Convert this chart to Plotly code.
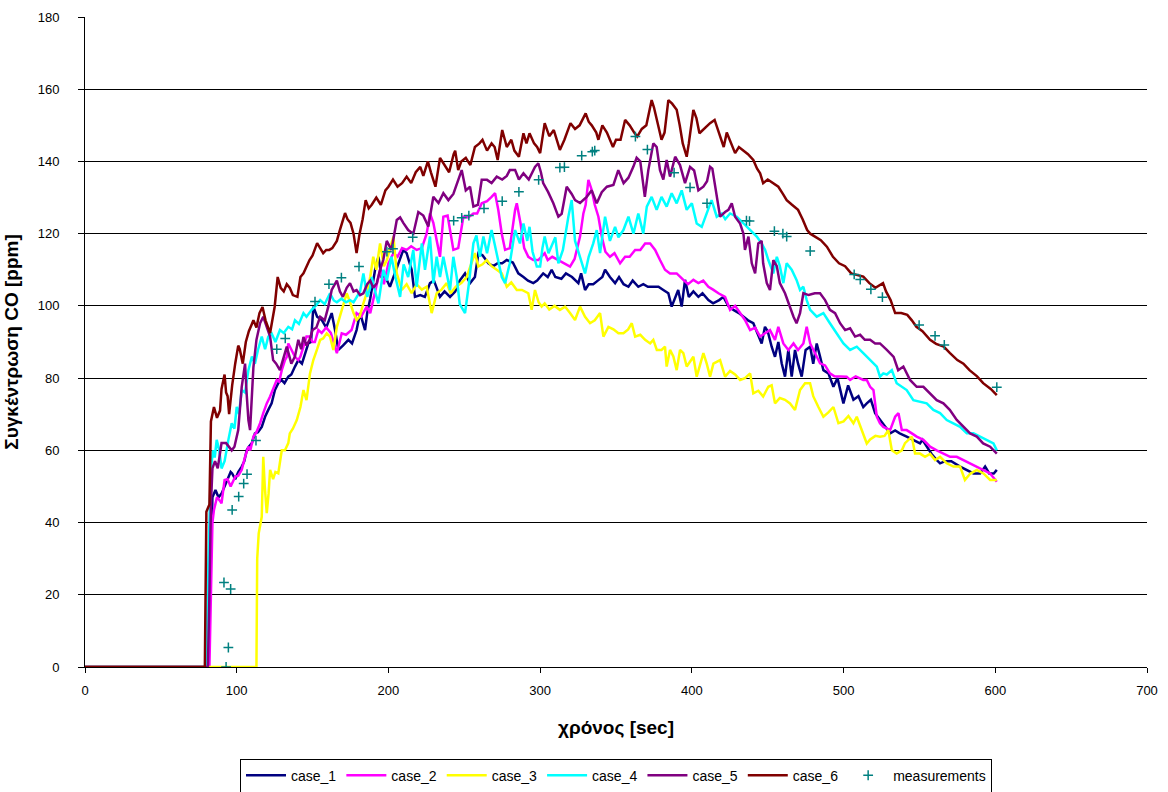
import plotly.graph_objects as go

# ---- CO concentration [ppm] vs time [sec] for six simulation cases ----
case1_t = [0, 81, 82, 83, 84, 86, 88, 90, 92, 94, 96, 97, 99, 101, 103.3, 105, 106.6, 108, 110, 112, 114, 116.5,
           118.7, 120.8, 123, 125.2, 127.4, 129.5, 131.5, 134, 136, 138.4, 140.6, 143, 145, 147.2, 149, 150.5, 153,
           156, 159, 162.6, 164.8, 167, 170, 173.6, 176, 179, 181.3, 184.6, 186, 188, 191.2, 193.4, 195.5, 198, 201,
           205, 209.8, 212, 215.3, 217.5, 221, 224, 227.4, 230, 234, 237, 240.6, 244, 247, 250.5, 253.8, 257, 259.3,
           262, 265.9, 269, 272, 275, 278, 282, 285.6, 289, 292, 295.5, 298, 302, 305, 307.6, 310, 314, 317, 321,
           325.2, 327, 329.6, 332, 335, 338, 341, 342.8, 346, 349.4, 352, 355, 358.2, 361, 364.7, 368, 371, 374.6,
           378, 381.2, 384.5, 386.7, 389, 391, 393.3, 395.5, 398, 401, 404.3, 407, 410.9, 414, 418, 420.8, 424,
           427.4, 431, 434, 437, 440.5, 443, 446, 448.2, 450, 452.6, 454.8, 457, 459.2, 461.4, 463.6, 465.8, 468,
           470, 472.4, 475, 478, 480, 482.3, 484.5, 486.7, 490, 493.3, 496, 499.9, 503, 506.5, 509.8, 513, 515.3,
           518, 520.8, 524, 527.4, 530.7, 534, 537, 541.6, 546, 550.4, 552, 554.8, 558, 561, 563.6, 567, 571, 576.8,
           581, 585.6, 590, 593.3, 596, 599, 601]
case1_ppm = [0, 0, 15, 35, 47, 49, 47, 48, 50, 52, 54, 53.6, 52, 54, 55.5, 57, 60, 61, 62, 64.7, 65, 66.5,
             69.3, 71.2, 73, 76.7, 78.6, 79.5, 78.6, 80.4, 81, 83.2, 85, 84, 86.9, 89.6, 90, 99.8, 97,
             96.1, 94, 98, 93.3, 87.8, 89, 90.6, 89.6, 93.3, 98, 93.3, 98, 102, 110, 113.6, 108, 108, 105.3,
             110, 115.5, 114.6, 110, 102.5, 103, 102.5, 106.3, 107, 102.5, 104, 102.5, 104, 107, 109, 106.3, 108, 114.6,
             114, 111.8, 111, 111.8, 111.8, 112.7, 112, 109, 108, 107, 106.3, 107, 109, 108, 110, 108, 107.5, 109, 108,
             106.3, 109, 104.4, 106, 106, 107, 108, 110, 108, 106.3, 108, 106, 105.3, 107, 105.3, 106, 105.3, 105.3,
             105.3, 104.4, 103.5, 99.8, 102, 104.4, 99.8, 107.2, 102.5, 104, 102.5, 103.5, 101.6, 100.7, 101.6, 102.5, 100,
             98.9, 98, 97, 96, 95.2, 92.4, 89.6, 94.2, 93, 88.7, 85.9, 90, 84.1, 80.4, 87.8, 80.4, 87.8,
             84, 80.4, 87.8, 88.7, 84, 89.6, 86, 82.2, 81.3, 77.6, 80, 73, 78, 74, 75, 72, 73,
             74, 70.3, 68.4, 66.5, 64.7, 65.5, 64.7, 63.8, 62.9, 61.9, 62.9, 61, 59, 57.5, 56.4, 57, 57, 55.5,
             54.6, 53.6, 53.6, 55.5, 53.6, 53.6, 54.6]

case2_t = [0, 82, 83, 84, 85, 87, 89, 90, 92, 94, 96, 99, 101, 103.3, 105.5, 107.7, 109, 111, 113, 115.4, 117.5,
           119.8, 122, 124, 126.4, 128, 129.7, 131.8, 133, 134, 136, 138.4, 140.6, 142, 144, 146, 148, 150, 151.5,
           153.8, 156, 159, 162, 164, 166, 169.2, 172, 175.7, 179, 182, 185.7, 188, 191.2, 194.5, 197, 200, 203.3,
           206, 209, 212, 215, 218.6, 222, 225.2, 227.4, 229.6, 231.8, 234, 236.2, 239, 242.8, 246, 249.4, 252.6,
           256, 258.5, 261.5, 265, 268, 270.3, 272.4, 274.7, 276.9, 280, 283.5, 284.6, 287, 289.5, 292.2, 295.5,
           298.8, 301, 303, 305, 308, 312, 315, 319.7, 322.7, 326.3, 328.5, 330, 331.8, 334, 336, 338.4, 340.6, 343,
           346, 349, 352.7, 356, 359, 362.6, 366, 369.2, 372.5, 375.8, 379, 382.3, 385.6, 390, 394.4, 397.5, 401,
           404.3, 407.5, 410.9, 414, 417.5, 421.9, 425.2, 428.5, 431.8, 435, 438.4, 441.7, 445, 448, 451.5, 454.8,
           457, 460.3, 463.6, 467, 470, 473.5, 475.7, 478, 481.2, 484.5, 487.8, 491, 494, 497.5, 502, 504.3, 508,
           513, 515.3, 517.5, 519.7, 521.9, 524, 526.2, 530.7, 534, 536.2, 538.4, 541.6, 545, 548.2, 552.6, 557,
           561.4, 566, 570.2, 574.6, 579, 583.4, 587.8, 592.2, 596.6, 601]
case2_ppm = [0, 0, 20, 40, 43.5, 47, 46, 45.3, 51.8, 52, 50, 52.7, 53, 54.6, 58.2, 61, 60, 63.8, 65, 67.5, 70.3,
             73, 74.9, 77, 79.5, 79, 82.2, 85, 85.9, 89.6, 88, 85.9, 85, 86, 88.7, 91.5, 91.5, 90, 90,
             93.3, 92.5, 94, 92.5, 90, 86.9, 92.4, 92, 93.3, 98, 97, 99.8, 98, 104.4, 110, 106, 111.8, 114.6,
             113.6, 116, 115.5, 116.5, 115.5, 116, 120, 125.6, 123, 118.2, 113.6, 124.7, 125, 115.5, 116, 124.7, 124.5,
             125.6, 125.6, 128.4, 129, 130.2, 131.2, 126.6, 120, 115.5, 116, 126.6, 128.4, 123, 116, 113.6, 112.7,
             112.7, 113.6, 114.6, 112.7, 113.6, 112.7, 112, 110.9, 113, 119.2, 125.6, 128, 134.9, 132.1, 128, 124.7, 119.2, 115,
             113.6, 114.6, 111.8, 113.6, 113.6, 115.5, 115.5, 117.3, 117.3, 115.5, 112.7, 110, 109, 109, 107.2, 106, 107.2,
             106.3, 107, 105.3, 104.5, 103.5, 102.5, 98.9, 100, 98, 96.1, 93.3, 94, 91.5, 92.4, 93.3, 90.6,
             94.2, 89.6, 87.8, 89.6, 87.8, 89.6, 94.2, 89.6, 86.9, 84.1, 83.5, 81.3, 80.5, 80.5, 80.4, 79.5, 80.5,
             79.5, 79.5, 77.6, 76.7, 69.3, 67.5, 66.5, 65.6, 69.3, 70.3, 65.6, 65.6, 64.7, 63.8, 62.9, 61,
             60, 59.1, 58.2, 58.2, 57.3, 56.4, 55.5, 54.6, 53.6, 51.3]

case3_t = [0, 113, 113.5, 114.5, 116.5, 117.5, 118.5, 119.8, 121, 122, 124, 125.5, 127.4, 129.7, 131.8, 134, 135,
           137, 139.6, 142, 144, 146, 148.3, 150.5, 153, 155, 157, 159.3, 161.5, 163.7, 166, 168, 170.3, 172.5,
           174.7, 177, 179, 181, 183.5, 186, 188, 190, 192, 194.5, 197, 199, 201, 203.3, 205.5, 208.8, 212, 215.3,
           218.6, 222, 225.2, 228.5, 231.8, 235, 238.4, 241, 244.4, 248, 251.6, 254.9, 257, 259.3, 262, 264.8, 268,
           271.4, 274.7, 278, 281, 284.6, 288, 292.2, 294.4, 296.6, 299, 301, 303, 306, 309.5, 313, 316.4, 319.7,
           323, 326.3, 329.6, 332.9, 336, 339.5, 341.7, 345, 348.3, 351.6, 354.9, 358, 360.4, 362.6, 366, 369.2,
           372.5, 374.6, 376.9, 380, 382.3, 383.4, 385.6, 387.8, 390, 392.2, 394.4, 396.6, 398.8, 401, 403.2, 405.4,
           407.6, 409.8, 412, 414.2, 416.4, 418.6, 421.9, 425.2, 428.5, 431.8, 435, 438.4, 440.5, 443.8, 447, 450.4,
           452.6, 454.8, 458, 461.4, 464.7, 468, 471.3, 474.6, 477.9, 480, 483.4, 486.7, 490, 493.3, 496.6, 500,
           503.2, 506.5, 508.7, 512, 515.3, 517.5, 521, 524, 527, 529.5, 531.8, 535, 538.4, 540.5, 542.7, 545,
           547.1, 550.4, 553.7, 557, 560.3, 563.6, 568, 572.4, 576.8, 580, 583.4, 587.8, 592.2, 596.6, 601]
case3_ppm = [0, 0, 30, 37, 41.6, 58.2, 50, 42.6, 48, 54.6, 52, 54, 53.6, 60, 60, 62, 64.7,
             66, 68.4, 72, 76.7, 73.9, 81.3, 85, 88, 90.6, 91, 92.4, 91.5, 87.8, 94.2, 97, 99.8, 103.5,
             101, 98, 96.1, 97, 100.7, 104, 108, 113.6, 110, 117.3, 111, 112.7, 116, 119.2, 109, 104.4, 106, 103.5,
             106, 104.5, 105.3, 98, 103.5, 104.5, 106.3, 103.5, 105.3, 106.3, 108, 111.8, 114.6, 110.9, 111.5, 112.7, 111,
             110, 109, 105.3, 106.5, 104.4, 104.4, 103.5, 98.9, 104.4, 101, 99.8, 100.7, 99, 100, 98.9, 99.8, 98,
             96.1, 99.8, 97, 95.2, 96, 98, 91.5, 94.2, 93.5, 92.4, 92.4, 93.5, 95.2, 91.5, 92, 90.6,
             89.6, 90.6, 87.8, 87.8, 88.7, 83.2, 87.8, 86, 82.2, 87.8, 86.9, 83.2, 84.5, 85.9, 80.4, 84,
             86.9, 84, 80.4, 84, 84.5, 85, 80.4, 82, 81, 79.5, 80, 81.3, 75.8, 76.5, 74.9, 77.6,
             78, 73, 74.5, 74, 73, 71.2, 76.7, 78.6, 78.6, 75, 72, 69.3, 70.5, 72, 67.5, 68,
             69.5, 67.5, 69.3, 65.6, 61.9, 63, 64, 63.8, 64, 65.6, 60, 59.1, 60, 62, 62.9, 63.8,
             59.1, 59.1, 58.2, 59, 57.3, 58.2, 56.4, 55.5, 55.5, 51.8, 53.5, 54.6, 53.6, 51.8, 51.8]

case4_t = [0, 80, 81, 82, 83, 84.4, 85.5, 86.8, 88.5, 90, 92, 94.5, 96.7, 98.5, 100, 101.5, 103.3, 105.5, 107.7,
           110, 112, 114, 116.5, 118.7, 120.8, 123, 125.5, 128.5, 131, 134, 136.5, 138.4, 141, 144, 146, 149.4,
           152, 155, 158, 161.5, 164, 166, 169, 172, 174.7, 177, 179, 181.3, 183.5, 186, 188, 189, 191.2, 193.4,
           196.7, 199, 202, 204.6, 207.7, 210, 213, 216.4, 218.6, 222, 224.1, 227.4, 229.6, 231.8, 234, 236.2,
           238.4, 240.6, 242.8, 245, 247, 250.5, 253, 256, 258, 260.3, 262.6, 265, 268, 271.4, 274.7, 276.9, 280,
           283.5, 286.7, 289, 291.5, 293, 295, 297.8, 300, 301.5, 303, 305.5, 308, 310, 312, 315, 318.6, 320.8,
           323, 326, 329.6, 332, 335, 337.3, 339.5, 342.8, 346, 349.4, 351.6, 354.9, 358.2, 361.5, 364.7, 368,
           370.3, 373.5, 376.8, 380, 383.4, 386.7, 390, 393.3, 396.6, 400, 403.2, 406.5, 409.8, 413, 416.4, 419.7,
           422, 425.2, 429.6, 434, 438.4, 442.8, 446, 448.3, 450.4, 453.7, 456, 458, 460.3, 462.5, 465.8, 469,
           471.3, 473.5, 475.7, 478, 482.3, 486.7, 491, 495.4, 499.9, 504.3, 508.7, 513, 517.5, 521.9, 524, 526.2,
           528.5, 531.8, 535, 538.4, 541.6, 546, 550.4, 554.8, 559.2, 563.6, 568, 572.4, 576.8, 581.2, 585.6, 590,
           594.4, 598.8, 601]
case4_ppm = [0, 0, 25, 45, 55, 60, 58, 62.9, 60, 55, 57, 62.9, 67.5, 66, 72, 70, 76.7, 76, 82.2,
             86, 84, 87.8, 91.5, 88, 91.5, 92.4, 90, 93.3, 92.5, 94.2, 93.5, 96, 95, 98, 97, 98.9,
             100, 101.6, 100.5, 103.5, 101.5, 101, 102, 101, 101.6, 101, 102.5, 104, 109, 102.5, 105, 108, 104, 100.7,
             110, 107, 113.6, 108, 102.5, 111.5, 108, 115.5, 105.3, 117.3, 110, 119.2, 106.3, 113.6, 108, 113.6,
             109, 104.4, 113.6, 108, 100.5, 98, 106, 117.3, 119.5, 113.6, 119.2, 114.6, 121, 114.6, 108, 106.3, 111.8,
             121, 117.3, 122.8, 118, 121.9, 115, 110.9, 110.9, 116, 119.2, 114.6, 117, 119, 111.8, 115.5, 124.7, 129.3,
             118, 113.6, 109, 113.6, 117.3, 121, 114.6, 124.7, 118, 121.9, 119, 121, 124.7, 120, 125.6, 120,
             127.5, 130.2, 126.6, 130.2, 127.5, 131.2, 128.4, 132, 126.6, 128.4, 122.8, 121.9, 125.6, 129.3, 124.7, 125.6,
             124, 125.6, 124.7, 122.8, 121, 119.2, 117.3, 115.5, 112.7, 109, 113.6, 111, 106.3, 111.8, 110, 107.2,
             104.4, 105.3, 101.6, 98.9, 97, 98, 95.2, 92.4, 89.6, 87.8, 88.7, 86.9, 85, 83.2, 80.4, 81.3,
             81, 82.2, 78.6, 77.5, 76.7, 73.9, 73.5, 73, 71.2, 70.3, 68.4, 67.5, 66.5, 64.7, 64.7, 63.8,
             62.9, 61.9, 60]

case5_t = [0, 81, 82, 83, 84, 85.7, 87.5, 90, 93, 96.7, 98.5, 101, 103.3, 105.5, 106.5, 107.7, 108.8, 111, 113,
           115.4, 117.5, 119.8, 122, 124, 126, 128.5, 131, 133, 136, 138.4, 140.6, 142.5, 144, 146, 148, 150, 152.5,
           155, 158, 160.5, 162.6, 166, 168, 170, 172.5, 174.7, 177, 179, 181.3, 183.5, 186, 188, 190, 192.3, 194.5,
           196.6, 198.9, 202, 205.5, 207.7, 209.8, 213, 216.4, 219.7, 223, 226.3, 229.6, 233, 236.2, 239.5, 242.8,
           246, 248.3, 251, 253.8, 256, 259, 261.5, 265, 268, 271.4, 275, 278, 280, 283.5, 286, 289, 292.5, 296.6,
           298.8, 300.5, 302, 305.3, 308.7, 312, 314.2, 317.5, 320.8, 323, 326.3, 330.7, 334, 337.3, 340.6, 344,
           348.3, 351.5, 355, 358.2, 361.4, 363.6, 366, 369, 371.3, 374.6, 376.8, 379, 381.2, 383.4, 385.6, 389,
           392.2, 395.5, 398.8, 401.5, 404.3, 407.6, 410, 412, 413.5, 416.4, 418.6, 421.9, 424.1, 426.3, 428.5,
           431.8, 434, 435, 437.3, 439.5, 441.7, 443.8, 446, 447, 449.4, 451.5, 453.7, 456, 458, 461.4, 463.6, 467,
           469, 471.3, 473.5, 477, 481, 484.5, 487.8, 491, 494.4, 497.7, 501, 504.3, 507.6, 510.9, 514, 517.5,
           520.8, 524, 528.5, 533, 536, 539.4, 543.8, 548.2, 552.6, 557, 561.4, 565.8, 570, 574.6, 579, 583.4,
           587.8, 592, 596.6, 601]
case5_ppm = [0, 0, 20, 45, 55, 57, 55, 62, 62, 60, 61, 65.6, 77.6, 84, 76, 68.4, 65.6, 83, 90.6,
             95.2, 97, 94, 91.5, 85, 84, 82.2, 86, 88.7, 84, 86, 90.6, 88, 91.4, 89, 90.6, 93.3, 94,
             97, 96, 100, 104.4, 107, 104, 102.5, 105, 106.3, 104, 104.4, 103, 103.5, 106, 107, 105, 106.3, 110,
             112.7, 118, 115.5, 123.8, 124.5, 123, 121, 120, 126, 125, 122, 130.2, 128.5, 131.2, 129.3, 131,
             134.9, 137.6, 132, 133, 127.5, 128, 134.9, 134.9, 134, 135.8, 135, 136, 137.6, 137.6, 135, 136.7, 135, 138.5,
             139.5, 137, 134, 131.5, 128.4, 124.7, 125.5, 133, 131, 129.3, 128.5, 130.2, 132, 128.4, 131.5, 133,
             133.5, 137.6, 134, 135.5, 138.5, 141, 140, 130.2, 137.6, 145, 144, 137.6, 135, 140.4, 135.8, 141.3,
             139, 134, 138.5, 137.5, 132, 133, 134.5, 138.5, 138, 130.2, 124.7, 126, 126.6, 128.4, 124.7,
             122.8, 120, 115.5, 119.2, 111.8, 109, 117.3, 118, 111.8, 106.3, 104.4, 112.7, 111, 106.3, 103.5, 100.7, 97,
             95.2, 98, 103.5, 103, 103.5, 103.5, 101.6, 98.9, 98, 95.2, 93.3, 93.8, 91.5, 92, 90.6, 90.6,
             89.6, 89.6, 87.8, 85.9, 82.2, 83.2, 79.5, 77.6, 77.6, 75.8, 73.9, 73, 71.2, 68.4, 66.5, 64.7,
             63.8, 61.9, 61, 59.1]

case6_t = [0, 79, 80, 82, 83, 85, 87, 89, 90, 92, 93, 94, 95, 97, 99, 101, 102, 104, 106, 108, 110, 111, 113,
           115, 117, 119, 122, 124, 125, 127, 129, 131, 133, 135, 137, 140, 142, 144, 146, 148, 150, 153, 155, 157,
           159, 161, 163, 166, 168, 170, 171.4, 173, 175, 177, 179, 181, 183, 185, 187, 189, 192, 195, 198, 200,
           203, 206, 209, 212, 215, 218, 221, 223, 226, 228, 231, 234, 237, 240, 243, 244, 246, 248, 251, 254, 257,
           260, 262, 265, 268, 270, 272, 275, 278, 281, 283, 286, 289, 291, 293, 296, 298, 300, 303, 306, 309, 311,
           313, 316, 320, 323, 326, 330, 332, 334, 337, 338.4, 341, 344, 348, 350, 353, 356, 359, 362, 364, 367,
           370, 373.5, 375, 378, 380, 382, 384.5, 387, 390, 392, 394, 396.6, 398, 401, 403, 405, 408, 412, 415,
           418, 421, 423, 426, 428.5, 431, 434, 437, 440.5, 443, 445, 447, 450, 453.7, 457, 460, 462.5, 466, 470,
           473, 476, 478, 482, 485, 489, 493, 497, 501, 505, 509, 513, 517, 521, 526, 528, 531, 534, 538, 542, 545,
           548, 552, 557, 561, 566, 570, 575, 579, 583, 588, 592, 597, 601]
case6_ppm = [0, 0, 43, 45, 68, 72, 69, 71, 77, 81, 76, 75, 70, 78, 84, 89, 88, 84, 90, 93, 95, 96, 94,
             98, 99.7, 96, 92.5, 98, 99.7, 108, 105, 104, 106, 105, 103, 102.5, 108, 109, 111, 112.7, 114, 117.4, 116, 114.6,
             115.5, 115.5, 116, 118, 121, 123.8, 125.7, 124, 123, 120, 114.6, 120, 124, 129.3, 127, 128, 130, 128, 132, 133,
             135, 133, 134, 135.8, 134, 137, 138.5, 136, 140, 137, 133, 141, 139, 137, 142, 143, 137.6, 140, 141, 139, 144,
             145, 146, 143, 145, 144, 140.4, 148.7, 144, 146, 143, 141.3, 147.8, 145, 147.8, 145, 144, 142.3, 150.6, 147, 148.7, 146,
             143.2, 146, 150.6, 149, 150, 153.3, 151, 150, 148, 146, 150, 148, 144, 146, 146, 151.5, 150, 148, 146.9, 149,
             150, 157, 155, 149.6, 146, 148, 157, 156, 154.3, 150, 145, 141.3, 145, 154.3, 152, 147.8, 149, 150.6, 151.5,
             148, 144, 148, 145, 142.3, 144, 143, 142, 140.4, 138, 136.7, 134, 135, 134, 133, 131, 129.3, 128, 126.6,
             124, 121, 120, 119, 118.2, 116.4, 113.6, 111.8, 111, 109, 108.5, 108.1, 106.3, 105, 106.3, 104, 101.6, 98, 98, 97.5, 96,
             94.2, 93, 90.6, 89.5, 88.7, 87, 85, 84, 82.2, 80.5, 78.6, 77, 75.3]

# ---- measured CO values ----
meas_t = [91.6, 93, 94.5, 96, 97, 101.3, 104.6, 106.8, 112.7, 126.4, 132, 151.6, 160.8, 169, 180.6, 199, 203,
          216, 243, 248.3, 253, 263, 275, 286, 299, 313, 316, 327.4, 334.4, 336, 362.8, 370.7, 388.3, 398.8, 410,
          436, 438, 454.4, 460, 462.5, 478, 507, 511, 518, 525.6, 549.8, 560.3, 566.4, 601]
meas_ppm = [23.4, 0, 5.4, 21.6, 43.5, 47.2, 50.8, 53.4, 62.7, 88, 91, 101.2, 106, 107.8, 110.9, 115, 115.8,
            119, 123.6, 124.4, 125, 127, 129, 131.6, 134.9, 138.3, 138.4, 141.6, 142.7, 143, 146.9, 143.3, 136.9, 132.8, 128.4,
            123.6, 123.5, 120.7, 120, 119.2, 115.2, 108.7, 107.3, 104.6, 102.4, 94.7, 91.7, 89.2, 77.5]

series = [
    ("case_1", case1_t, case1_ppm, "#000080"),
    ("case_2", case2_t, case2_ppm, "#FF00FF"),
    ("case_3", case3_t, case3_ppm, "#FFFF00"),
    ("case_4", case4_t, case4_ppm, "#00FFFF"),
    ("case_5", case5_t, case5_ppm, "#800080"),
    ("case_6", case6_t, case6_ppm, "#800000"),
]

FONT = "Liberation Sans, Arial, sans-serif"

fig = go.Figure()
for name, t, ppm, color in series:
    fig.add_trace(go.Scatter(x=t, y=ppm, mode="lines", name=name,
                             line=dict(color=color, width=2.5)))

fig.add_trace(go.Scatter(x=meas_t, y=meas_ppm, mode="markers", name="measurements",
                         marker=dict(symbol="cross-thin", size=7, color="#008080",
                                     line=dict(color="#008080", width=1.5))))

fig.update_layout(
    width=1168, height=792,
    margin=dict(l=85, r=21, t=17, b=125, autoexpand=False),
    paper_bgcolor="white", plot_bgcolor="white",
    font=dict(family=FONT, size=13, color="black"),
    showlegend=True,
    legend=dict(orientation="h", x=0.5, xanchor="center", y=-0.141, yanchor="top",
                bordercolor="black", borderwidth=1, font=dict(size=14, family=FONT),
                itemwidth=40, tracegroupgap=0),
    xaxis=dict(range=[0, 700], dtick=100, showgrid=False, zeroline=False,
               showline=True, linecolor="black", linewidth=1,
               ticks="outside", ticklen=5, tickcolor="black", ticklabelstandoff=6,
               automargin=False,
               title=dict(text="<b>χρόνος [sec]</b>", font=dict(size=19, family=FONT), standoff=24)),
    yaxis=dict(range=[0, 180], dtick=20, showgrid=True, gridcolor="black", gridwidth=1,
               zeroline=False, showline=True, linecolor="black", linewidth=1,
               ticks="outside", ticklen=6, tickcolor="black", ticklabelstandoff=16,
               automargin=False,
               title=dict(text="<b>Συγκέντρωση CO [ppm]</b>", font=dict(size=19, family=FONT), standoff=14)),
)

fig.write_html("out.html")
